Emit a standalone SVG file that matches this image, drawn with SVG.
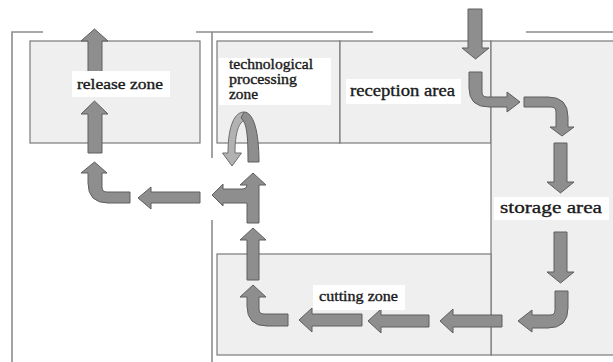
<svg xmlns="http://www.w3.org/2000/svg" width="613" height="362" viewBox="0 0 613 362">
<style>
.wall{fill:none;stroke:#8c8c8c;stroke-width:1.6}
.zone{fill:#efefef;stroke:#7a7a7a;stroke-width:1.2}
.lbl{fill:#ffffff;stroke:none}
.t{font-family:"Liberation Serif","Times New Roman",serif;fill:#1a1a1a;stroke:#1a1a1a;stroke-width:0.35}
.arr{fill:#8e8e8e;stroke:#5e5e5e;stroke-width:1;stroke-linejoin:miter}
.arrL{fill:#b2b2b2;stroke:#6e6e6e;stroke-width:1}
</style>
<rect width="613" height="362" fill="#ffffff"/>
<g id="walls">
<path class="wall" d="M43,32 H12 V362"/>
<path class="wall" d="M196,32 H373"/>
<path class="wall" d="M212,32 V158"/>
<path class="wall" d="M212,220 V362"/>
<path class="wall" d="M526,32 H613"/>
</g>
<g id="release-zone">
<rect class="zone" x="30" y="41" width="170" height="102"/>
</g>
<g id="tech-zone">
<rect class="zone" x="217" y="41" width="123" height="102"/>
</g>
<g id="reception-area">
<rect class="zone" x="340" y="41" width="151" height="102"/>
</g>
<g id="storage-area">
<rect class="zone" x="491" y="41" width="124" height="314"/>
</g>
<g id="cutting-zone">
<rect class="zone" x="217" y="254" width="274" height="101"/>
</g>
<g id="connectors">
<path class="arr" d="M468,9 H482 V48 H489 L475.5,59 L462,48 H468 Z"/>
<path class="arr" d="M469,72 H482 V92 Q482,97 487,97 H507 V92 L520,102 L507,112 V107 H489 Q469,107 469,88 Z"/>
<path class="arr" d="M524,97 H548 Q568,97 568,117 V127 H574 L562,136 L550,127 H556 V112 Q556,107 551,107 H524 Z"/>
<path class="arr" d="M554,143 H567 V182 H574 L560.5,193 L547,182 H554 Z"/>
<path class="arr" d="M554,232 H567 V272 H574 L560.5,283 L547,272 H554 Z"/>
<path class="arr" d="M555,291 H568 V308 Q568,328 548,328 H532 V332 L518,321 L532,310 V315 H550 Q555,315 555,310 Z"/>
<path class="arr" d="M502,315 H453 V309 L440,321 L453,333 V327 H502 Z"/>
<path class="arr" d="M429,315 H381 V309 L368,321 L381,333 V327 H429 Z"/>
<path class="arr" d="M362,314 H312 V308 L299,320 L312,332 V326 H362 Z"/>
<path class="arr" d="M288,314 H264 Q259,314 259,309 V297 H266 L253,285 L240,297 H247 V306 Q247,326 267,326 H288 Z"/>
<path class="arr" d="M247,280 V240 H240 L253,228 L266,240 H259 V280 Z"/>
<path class="arr" d="M247,223 V203 H223 V206 L212,195 L223,184 V189 H243 Q247,189 247,185 H240 L253,173 L266,185 H259 V223 Z"/>
<path class="arr" d="M200,192 H151 V187 L138,198 L151,209 V203 H200 Z"/>
<path class="arr" d="M130,192 H107 Q102,192 102,187 V173 H107 L94.5,162 L81,173 H88 V183 Q88,203 108,203 H130 Z"/>
<path class="arr" d="M88,153 V114 H81 L94.5,101 L108,114 H102 V153 Z"/>
<path class="arr" d="M88,85 V41 H81 L94.5,29 L108,41 H102 V85 Z"/>
<path class="arrL" d="M228,153 C228,125 235,112 244,112 L245,120 C239,122 235,132 235,153 H241.5 L232,166 L222.5,153 Z"/>
<path class="arr" d="M244,112 C253,112 259,130 259,162 H248 C248,136 247,123 241,118 Z"/>
</g>
<g id="labels">
<rect class="lbl" x="72" y="71" width="98" height="26"/>
<text class="t" x="77" y="89" font-size="15" textLength="86" lengthAdjust="spacingAndGlyphs">release zone</text>
<rect class="lbl" x="219" y="58" width="112" height="47"/>
<text class="t" x="229" y="69" font-size="14" textLength="84" lengthAdjust="spacingAndGlyphs">technological</text>
<text class="t" x="229" y="84" font-size="14" textLength="68" lengthAdjust="spacingAndGlyphs">processing</text>
<text class="t" x="229" y="99" font-size="14" textLength="29" lengthAdjust="spacingAndGlyphs">zone</text>
<rect class="lbl" x="346" y="79" width="115" height="25"/>
<text class="t" x="350" y="96" font-size="16" textLength="105" lengthAdjust="spacingAndGlyphs">reception area</text>
<rect class="lbl" x="494" y="197" width="115" height="23"/>
<text class="t" x="500" y="213" font-size="17" textLength="102" lengthAdjust="spacingAndGlyphs">storage area</text>
<rect class="lbl" x="313" y="285" width="92" height="25"/>
<text class="t" x="319" y="301" font-size="14" textLength="79" lengthAdjust="spacingAndGlyphs">cutting zone</text>
</g>
</svg>
